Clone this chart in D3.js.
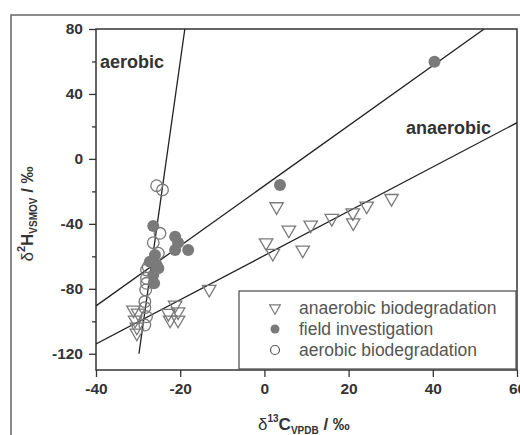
<!DOCTYPE html>
<html>
<head>
<meta charset="utf-8">
<script src="https://cdn.jsdelivr.net/npm/d3@7"></script>
<style>
  body { margin: 0; background: #fff; }
  svg { display: block; font-family: "Liberation Sans", Arial, sans-serif; }
</style>
</head>
<body>
<svg id="chart" width="520" height="435"></svg>
<script>
// ---------------- data ----------------
// anaerobic biodegradation: [d13C, d2H]
const anaerobicPts = [
  [-31.1, -93], [-30.0, -94.9], [-30.7, -99.2], [-30.3, -103.5], [-30.3, -107.2],
  [-21.2, -90], [-22.8, -95.1], [-20.5, -94.1], [-22.4, -99.2], [-20.5, -99.2],
  [-13.1, -80.3],
  [2.9, -29.4], [5.8, -43.8], [11.0, -40.7], [16.0, -36.6], [21.0, -33.1],
  [24.3, -29.0], [30.2, -24.3], [21.1, -39.3], [0.4, -51.6], [2.0, -58.1], [9.1, -56.1]
];
// field investigation
const fieldPts = [
  [-26.4, -41.3], [-21.2, -47.9], [-20.5, -51.6], [-21.2, -56.1], [-18.1, -56.1],
  [-26.0, -59.2], [-25.6, -65.3], [-27.2, -63.3], [-25.2, -67.4], [-26.4, -71.5],
  [-26.2, -76.6], [3.7, -16.0], [40.4, 59.9]
];
// aerobic biodegradation
const aerobicPts = [
  [-25.6, -16.5], [-24.2, -19.1], [-24.8, -45.8], [-26.4, -51.6], [-25.2, -58.1],
  [-27.6, -66.4], [-28.0, -68.4], [-28.0, -73.5], [-28.0, -76.6], [-28.2, -80.7],
  [-28.4, -87.9], [-28.4, -91.6], [-28.0, -97.2], [-28.4, -102.3]
];
// regression lines, end points
const aerobicFit = [[-29.8, -120], [-18.9, 80]];
const fieldFit = [[-40, -90.5], [52.2, 80]];
const anaerobicFit = [[-40, -114], [60, 22.3]];

const xTicks = [-40, -20, 0, 20, 40, 60];
const yTicks = [-120, -80, -40, 0, 40, 80];
const yMinor = [-100, -60, -20, 20, 60];
const legendLabels = ["anaerobic biodegradation", "field investigation", "aerobic biodegradation"];

// ---------------- layout ----------------
const svg = d3.select("#chart");
const pLeft = 96, pRight = 517, pTop = 29, pBottom = 370;
const ink = "#333";

const x = d3.scaleLinear().domain([-40, 60]).range([pLeft, pRight]);
const y = d3.scaleLinear().domain([-130, 80]).range([pBottom, pTop]);

// outer frame of the figure
svg.append("rect")
  .attr("x", 11).attr("y", 15).attr("width", 540).attr("height", 440)
  .attr("fill", "none").attr("stroke", "#666").attr("stroke-width", 1.5);

// clip for the plotting area
svg.append("clipPath").attr("id", "plotclip")
  .append("rect").attr("x", pLeft).attr("y", pTop)
  .attr("width", pRight - pLeft).attr("height", pBottom - pTop);

// ---------------- axes ----------------
// plain hyphen for negatives, like the original figure
const fmt = d => String(d);

const xAxis = svg.append("g")
  .attr("transform", `translate(0,${pBottom})`)
  .call(d3.axisBottom(x).tickValues(xTicks).tickSize(7).tickPadding(6).tickFormat(fmt));

const yAxis = svg.append("g")
  .attr("transform", `translate(${pLeft},0)`)
  .call(d3.axisLeft(y).tickValues(yTicks).tickSize(7).tickPadding(6).tickFormat(fmt));

svg.append("g")
  .attr("transform", `translate(${pLeft},0)`)
  .call(d3.axisLeft(y).tickValues(yMinor).tickSize(4).tickFormat(""))
  .call(g => g.select(".domain").remove());

[xAxis, yAxis].forEach(g => {
  g.select(".domain").remove();
  g.selectAll("text")
    .attr("fill", ink)
    .attr("font-size", 15.5)
    .attr("font-weight", "bold")
    .attr("font-family", "Liberation Sans, Arial, sans-serif");
});
svg.selectAll("g.tick line").attr("stroke", ink).attr("stroke-width", 1.3);

// plot frame
svg.append("rect")
  .attr("x", pLeft).attr("y", pTop).attr("width", pRight - pLeft).attr("height", pBottom - pTop)
  .attr("fill", "none").attr("stroke", ink).attr("stroke-width", 1.5);

// ---------------- fit lines ----------------
const lineGen = d3.line().x(d => x(d[0])).y(d => y(d[1]));
const fits = svg.append("g").attr("clip-path", "url(#plotclip)");
[aerobicFit, fieldFit, anaerobicFit].forEach(f => {
  fits.append("path").attr("d", lineGen(f))
    .attr("fill", "none").attr("stroke", "#222").attr("stroke-width", 1.3);
});

// ---------------- points ----------------
const mark = "#7a7a7a";
const tri = d3.symbol(d3.symbolTriangle, 78)();
const triSmall = d3.symbol(d3.symbolTriangle, 50)();

svg.append("g").selectAll("path")
  .data(anaerobicPts).join("path")
  .attr("d", tri)
  .attr("transform", d => `translate(${x(d[0])},${y(d[1])}) rotate(180)`)
  .attr("fill", "none").attr("stroke", mark).attr("stroke-width", 1.3);

svg.append("g").selectAll("circle")
  .data(fieldPts).join("circle")
  .attr("cx", d => x(d[0])).attr("cy", d => y(d[1])).attr("r", 6)
  .attr("fill", mark);

svg.append("g").selectAll("circle")
  .data(aerobicPts).join("circle")
  .attr("cx", d => x(d[0])).attr("cy", d => y(d[1])).attr("r", 5.8)
  .attr("fill", "none").attr("stroke", mark).attr("stroke-width", 1.3);

// ---------------- annotations ----------------
svg.append("text").text("aerobic")
  .attr("x", 100).attr("y", 68)
  .attr("font-size", 18).attr("font-weight", "bold").attr("fill", ink);

svg.append("text").text("anaerobic")
  .attr("x", 406).attr("y", 134)
  .attr("font-size", 18).attr("font-weight", "bold").attr("fill", ink);

// ---------------- legend ----------------
const lg = svg.append("g");
lg.append("rect")
  .attr("x", 239).attr("y", 291).attr("width", 277).attr("height", 78)
  .attr("fill", "#fff").attr("stroke", "#555").attr("stroke-width", 1.3);

const rowY = [308, 329, 350];
lg.append("path").attr("d", triSmall)
  .attr("transform", `translate(275,${rowY[0]}) rotate(180)`)
  .attr("fill", "none").attr("stroke", mark).attr("stroke-width", 1.2);
lg.append("circle").attr("cx", 275).attr("cy", rowY[1]).attr("r", 4.5).attr("fill", mark);
lg.append("circle").attr("cx", 275).attr("cy", rowY[2]).attr("r", 4.5)
  .attr("fill", "none").attr("stroke", "#555").attr("stroke-width", 1.2);

lg.selectAll("text.lab").data(legendLabels).join("text")
  .attr("class", "lab")
  .attr("x", 299).attr("y", (d, i) => rowY[i] + 6)
  .attr("font-size", 17.5).attr("fill", "#555")
  .text(d => d);

// ---------------- axis titles ----------------
const xt = svg.append("text")
  .attr("x", 258).attr("y", 430)
  .attr("font-size", 17).attr("font-weight", "bold").attr("fill", ink);
xt.append("tspan").text("δ").attr("font-weight", "normal");
xt.append("tspan").text("13").attr("font-size", 10).attr("dy", -8);
xt.append("tspan").text("C").attr("dy", 8);
xt.append("tspan").text("VPDB").attr("font-size", 10).attr("dy", 4);
xt.append("tspan").text(" / ‰").attr("dy", -4);

const yt = svg.append("text")
  .attr("transform", "translate(33,214) rotate(-90)")
  .attr("text-anchor", "middle")
  .attr("font-size", 17).attr("font-weight", "bold").attr("fill", ink);
yt.append("tspan").text("δ").attr("font-weight", "normal");
yt.append("tspan").text("2").attr("font-size", 11).attr("dy", -8);
yt.append("tspan").text("H").attr("dy", 8);
yt.append("tspan").text("VSMOV").attr("font-size", 10).attr("dy", 4);
yt.append("tspan").text(" / ‰").attr("dy", -4);
</script>
</body>
</html>
